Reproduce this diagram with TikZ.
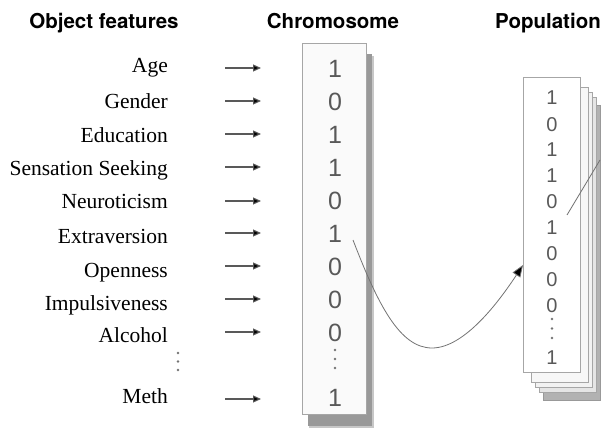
\documentclass[tikz,border=0pt]{standalone}
\usepackage{fontspec}
\setmainfont{Liberation Serif}
\newfontfamily\headfont{TeX Gyre Heros}
\newfontfamily\digitfont{Liberation Sans}
\usetikzlibrary{arrows.meta}
\tikzset{
  head/.style={font=\headfont\bfseries\fontsize{20.5}{22}\selectfont, anchor=base, inner sep=0pt},
  feat/.style={font=\fontsize{21.5}{23}\selectfont, anchor=base east, inner sep=0pt},
  cdig/.style={font=\digitfont\fontsize{25}{26}\selectfont, text=black!65, inner sep=0pt},
  pdig/.style={font=\digitfont\fontsize{20}{22}\selectfont, text=black!65, inner sep=0pt},
  featarrow/.style={draw=black!65, line width=1.1pt, -{Triangle[length=8pt,width=7pt,fill=black]}},
  dotmark/.style={fill=black!55, draw=none},
  card/.style={draw=black!35, line width=0.8pt},
  flow/.style={draw=black!55, line width=0.8pt},
}
\begin{document}
\begin{tikzpicture}[x=1pt,y=-1pt]
\useasboundingbox (0,0) rectangle (608,431);
% headings
\node[head] (h1) at (104,28) {Object features};
\node[head] (h2) at (333,28) {Chromosome};
\node[head] (h3) at (548,28) {Population};
% feature labels
\node[feat] (f1) at (168,72) {Age};
\node[feat] (f2) at (168,108) {Gender};
\node[feat] (f3) at (168,142) {Education};
\node[feat] (f4) at (168,175) {Sensation Seeking};
\node[feat] (f5) at (168,208) {Neuroticism};
\node[feat] (f6) at (168,243) {Extraversion};
\node[feat] (f7) at (168,277) {Openness};
\node[feat] (f8) at (168,310) {Impulsiveness};
\node[feat] (f9) at (168,342) {Alcohol};
\node[feat] (f10) at (168,403) {Meth};
\foreach \y in {353,361.5,370} \fill[dotmark] (178,\y) circle (1.4);
% arrows
\foreach \i/\y in {1/68,2/101,3/134,4/167,5/201,6/233,7/266,8/299,9/332,10/399}{
  \coordinate (s\i) at (225,\y);
  \coordinate (e\i) at (261,\y);
  \draw[featarrow] (s\i) -- (e\i);
}
% chromosome box with shadow
\fill[black!22] (309,56) rectangle (374,428);
\fill[black!40] (308,54) rectangle (372,426);
\filldraw[fill=white!98!black, draw=black!35, line width=0.8pt] (302,43) rectangle (366,414);
\foreach \i/\d/\y in {1/1/69,2/0/102,3/1/135,4/1/168,5/0/201,6/1/234,7/0/267,8/0/300,9/0/333,10/1/398}{
  \node[cdig] (c\i) at (335,\y) {\d};
}
\foreach \y in {350,359,368} \fill[dotmark] (335,\y) circle (1.4);
% population stack
\filldraw[fill=black!30, draw=black!40] (543,105) rectangle (600,400);
\filldraw[fill=black!10, card] (539,97) rectangle (596,392);
\filldraw[fill=black!5, card] (535,92) rectangle (592,387);
\filldraw[fill=white!97!black, card] (531,87) rectangle (588,382);
\filldraw[fill=white, card] (523,77) rectangle (580,372);
\foreach \i/\d/\y in {1/1/98,2/0/125,3/1/150,4/1/176,5/0/202,6/1/228,7/0/254,8/0/280,9/0/306,10/1/358}{
  \node[pdig] (p\i) at (552,\y) {\d};
}
\foreach \y in {319,328.5,338} \fill[dotmark] (552,\y) circle (1.3);
% flow curve
\coordinate (cs) at (353,240);
\coordinate (cm) at (432,348);
\coordinate (pe) at (523,265);
\draw[flow, -{Triangle[length=12pt,width=9pt,fill=black]}] (cs) .. controls (378,305) and (400,348) .. (cm) .. controls (465,348) and (500,300) .. (pe);
\coordinate (ps) at (567,215);
\coordinate (pt) at (600,160);
\draw[flow] (ps) -- (pt);
\end{tikzpicture}
\end{document}
